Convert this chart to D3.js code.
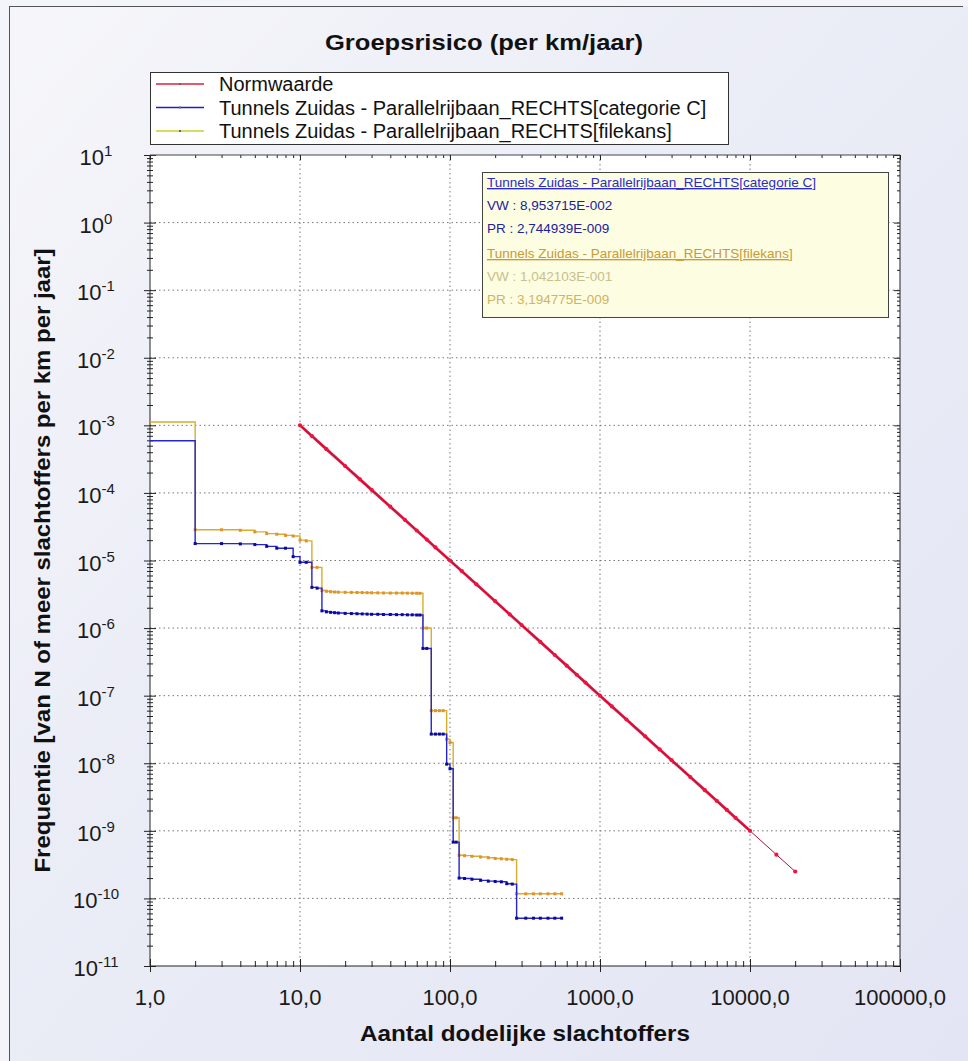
<!DOCTYPE html>
<html>
<head>
<meta charset="utf-8">
<script src="https://cdn.jsdelivr.net/npm/d3@7"></script>
<style>
  body { margin: 0; background: #fff; }
  svg { display: block; font-family: Arial, "Liberation Sans", sans-serif; }
</style>
</head>
<body>
<script>
//Width and height
var w = 968;
var h = 1061;
var plot = { l: 150, r: 900, t: 155, b: 966 };

// x tick values (decades) and labels
const xMajor = [1, 10, 100, 1000, 10000, 100000];
const xLabels = ["1,0", "10,0", "100,0", "1000,0", "10000,0", "100000,0"];

// y tick exponents
const yExp = [1, 0, -1, -2, -3, -4, -5, -6, -7, -8, -9, -10, -11];

// Normwaarde (N, F)
const normN = [10, 12, 15, 20, 25, 30, 40, 50, 60, 70, 80, 100, 120, 150, 200, 250, 300, 400, 500,
               600, 700, 800, 1000, 1200, 1500, 2000, 2500, 3000, 4000, 5000, 6000, 7000, 8000,
               10000, 15000, 20000];
const normF = [1e-3, 6.94e-4, 4.44e-4, 2.5e-4, 1.6e-4, 1.11e-4, 6.25e-5, 4e-5, 2.78e-5, 2.04e-5, 1.56e-5,
               1e-5, 6.94e-6, 4.44e-6, 2.5e-6, 1.6e-6, 1.11e-6, 6.25e-7, 4e-7,
               2.78e-7, 2.04e-7, 1.56e-7, 1e-7, 6.94e-8, 4.44e-8, 2.5e-8, 1.6e-8, 1.11e-8, 6.25e-9, 4e-9, 2.78e-9, 2.04e-9, 1.56e-9,
               1e-9, 4.44e-10, 2.5e-10];

// step curves: N values shared by both series
const stepN = [1, 2, 3, 4, 5, 6, 7, 8, 9, 10, 11, 12, 13, 14, 15, 16, 17, 18, 20, 22,
               24, 26, 28, 30, 33, 36, 40, 44, 48, 52, 56, 60, 63, 66, 70, 75, 80, 85, 90, 95,
               100, 105, 110, 115, 125, 140, 160, 180, 200, 220, 239, 260, 278, 320, 360, 400, 450, 500, 555];

// categorie C
const blueF = [5.9e-4, 1.78e-5, 1.78e-5, 1.76e-5, 1.72e-5, 1.62e-5, 1.52e-5, 1.52e-5, 1.14e-5, 9.4e-6,
               9.4e-6, 4.0e-6, 3.9e-6, 1.8e-6, 1.74e-6, 1.71e-6, 1.69e-6, 1.67e-6, 1.65e-6, 1.64e-6,
               1.63e-6, 1.62e-6, 1.61e-6, 1.6e-6, 1.6e-6, 1.59e-6, 1.59e-6, 1.58e-6, 1.58e-6, 1.57e-6,
               1.57e-6, 1.56e-6, 1.56e-6, 5.0e-7, 5.0e-7, 2.7e-8, 2.7e-8, 2.7e-8, 2.7e-8, 9.7e-9,
               8.3e-9, 6.8e-10, 6.8e-10, 2.0e-10, 1.97e-10, 1.92e-10, 1.85e-10, 1.8e-10, 1.78e-10, 1.76e-10,
               1.65e-10, 1.63e-10, 5.1e-11, 5.1e-11, 5.1e-11, 5.1e-11, 5.1e-11, 5.1e-11, 5.1e-11];

// filekans
const orangeF = [1.12e-3, 2.85e-5, 2.85e-5, 2.8e-5, 2.65e-5, 2.5e-5, 2.45e-5, 2.35e-5, 2.3e-5, 2.0e-5,
                 1.95e-5, 7.9e-6, 7.9e-6, 3.6e-6, 3.5e-6, 3.45e-6, 3.42e-6, 3.4e-6, 3.38e-6, 3.37e-6,
                 3.36e-6, 3.35e-6, 3.34e-6, 3.33e-6, 3.32e-6, 3.31e-6, 3.3e-6, 3.3e-6, 3.3e-6, 3.29e-6,
                 3.28e-6, 3.28e-6, 3.27e-6, 1.0e-6, 1.0e-6, 6.0e-8, 6.0e-8, 6.0e-8, 6.0e-8, 2.27e-8,
                 2.03e-8, 1.56e-9, 1.56e-9, 4.35e-10, 4.3e-10, 4.2e-10, 4.1e-10, 4.0e-10, 3.9e-10, 3.85e-10,
                 3.8e-10, 3.75e-10, 1.17e-10, 1.17e-10, 1.17e-10, 1.17e-10, 1.17e-10, 1.17e-10, 1.17e-10];

const seriesNames = ["Normwaarde",
                     "Tunnels Zuidas - Parallelrijbaan_RECHTS[categorie C]",
                     "Tunnels Zuidas - Parallelrijbaan_RECHTS[filekans]"];
const infoLines = ["Tunnels Zuidas - Parallelrijbaan_RECHTS[categorie C]",
                   "VW : 8,953715E-002",
                   "PR : 2,744939E-009",
                   "Tunnels Zuidas - Parallelrijbaan_RECHTS[filekans]",
                   "VW : 1,042103E-001",
                   "PR : 3,194775E-009"];

const normData = normN.map((n, i) => [n, normF[i]]);
const blueData = stepN.map((n, i) => [n, blueF[i]]);
const orangeData = stepN.map((n, i) => [n, orangeF[i]]);

// create scale functions
const xScale = d3.scaleLog()
                .domain([1, 100000])
                .range([plot.l, plot.r]);

const yScale = d3.scaleLog()
                .domain([1e-11, 10])
                .range([plot.b, plot.t]);

// create SVG element
const svg = d3.select("body")
              .append("svg")
                .attr("width", w)
                .attr("height", h);

// background
const grad = svg.append("defs").append("linearGradient")
  .attr("id", "bg").attr("x1", 0).attr("y1", 0).attr("x2", 1).attr("y2", 1);
grad.append("stop").attr("offset", "0%").attr("stop-color", "#f6f6fa");
grad.append("stop").attr("offset", "45%").attr("stop-color", "#eaecf6");
grad.append("stop").attr("offset", "100%").attr("stop-color", "#e3e5f4");

svg.append("rect").attr("width", w).attr("height", h).attr("fill", "#f4f5fa");
svg.append("rect").attr("x", 9).attr("y", 6).attr("width", w - 9).attr("height", h - 6).attr("fill", "url(#bg)");
svg.append("line").attr("x1", 9.5).attr("x2", 9.5).attr("y1", 6).attr("y2", h).attr("stroke", "#555");
svg.append("line").attr("x1", 9).attr("x2", 963).attr("y1", 6.5).attr("y2", 6.5).attr("stroke", "#555");

// plot area
svg.append("rect")
  .attr("x", plot.l).attr("y", plot.t)
  .attr("width", plot.r - plot.l).attr("height", plot.b - plot.t)
  .attr("fill", "#fff");

// grid lines
const yMajor = yExp.map(e => Math.pow(10, e));
svg.append("g").selectAll("line")
  .data(xMajor.slice(1, -1))
  .enter().append("line")
    .attr("x1", d => xScale(d)).attr("x2", d => xScale(d))
    .attr("y1", plot.t).attr("y2", plot.b)
    .attr("stroke", "#777").attr("stroke-dasharray", "1.5,3");
svg.append("g").selectAll("line")
  .data(yMajor.slice(1, -1))
  .enter().append("line")
    .attr("x1", plot.l).attr("x2", plot.r)
    .attr("y1", d => yScale(d)).attr("y2", d => yScale(d))
    .attr("stroke", "#777").attr("stroke-dasharray", "1.5,3");

// minor tick values
const xMinor = [];
xMajor.slice(0, -1).forEach(d => { for (let k = 2; k < 10; k++) xMinor.push(d * k); });
const yMinor = [];
yMajor.slice(1).forEach(d => { for (let k = 2; k < 10; k++) yMinor.push(d * k); });

function tickAxis(axis, vals, size) {
  return axis.tickValues(vals).tickSize(size).tickFormat("");
}
function clean(g) {
  g.select(".domain").remove();
  g.selectAll("line").attr("stroke", "#222");
}

// bottom axis
svg.append("g").attr("transform", `translate(0, ${plot.b})`)
  .call(tickAxis(d3.axisBottom(xScale), xMajor, 6)).call(clean);
svg.append("g").attr("transform", `translate(0, ${plot.b})`)
  .call(tickAxis(d3.axisTop(xScale), xMajor, 7)).call(clean);
svg.append("g").attr("transform", `translate(0, ${plot.b})`)
  .call(tickAxis(d3.axisTop(xScale), xMinor, 5)).call(clean);
svg.append("g").attr("transform", `translate(0, ${plot.b})`)
  .call(tickAxis(d3.axisBottom(xScale), xMinor, 1)).call(clean);

// top axis
svg.append("g").attr("transform", `translate(0, ${plot.t})`)
  .call(tickAxis(d3.axisBottom(xScale), xMajor, 5)).call(clean);
svg.append("g").attr("transform", `translate(0, ${plot.t})`)
  .call(tickAxis(d3.axisBottom(xScale), xMinor, 3)).call(clean);

// left axis
svg.append("g").attr("transform", `translate(${plot.l}, 0)`)
  .call(tickAxis(d3.axisLeft(yScale), yMajor, 6)).call(clean);
svg.append("g").attr("transform", `translate(${plot.l}, 0)`)
  .call(tickAxis(d3.axisRight(yScale), yMajor, 6)).call(clean);
svg.append("g").attr("transform", `translate(${plot.l}, 0)`)
  .call(tickAxis(d3.axisLeft(yScale), yMinor, 3)).call(clean);
svg.append("g").attr("transform", `translate(${plot.l}, 0)`)
  .call(tickAxis(d3.axisRight(yScale), yMinor, 3)).call(clean);

// right axis
svg.append("g").attr("transform", `translate(${plot.r}, 0)`)
  .call(tickAxis(d3.axisLeft(yScale), yMajor, 6)).call(clean);
svg.append("g").attr("transform", `translate(${plot.r}, 0)`)
  .call(tickAxis(d3.axisLeft(yScale), yMinor, 3)).call(clean);

// frame
svg.append("line").attr("x1", plot.l).attr("x2", plot.r).attr("y1", plot.b).attr("y2", plot.b).attr("stroke", "#222");
svg.append("line").attr("x1", plot.l).attr("x2", plot.l).attr("y1", plot.t).attr("y2", plot.b).attr("stroke", "#222");
svg.append("line").attr("x1", plot.r).attr("x2", plot.r).attr("y1", plot.t).attr("y2", plot.b).attr("stroke", "#222");
svg.append("line").attr("x1", plot.l).attr("x2", plot.r).attr("y1", plot.t).attr("y2", plot.t).attr("stroke", "#444");

// x tick labels
svg.append("g").selectAll("text")
  .data(xMajor)
  .enter().append("text")
    .attr("x", d => xScale(d))
    .attr("y", plot.b + 39)
    .attr("text-anchor", "middle")
    .attr("font-size", "22px")
    .attr("fill", "#1a1a1a")
    .text((d, i) => xLabels[i]);

// y tick labels with superscript
const yl = svg.append("g").selectAll("text")
  .data(yExp)
  .enter().append("text")
    .attr("x", 96)
    .attr("y", d => yScale(Math.pow(10, d)) + 10)
    .attr("text-anchor", "middle")
    .attr("font-size", "22px")
    .attr("fill", "#1a1a1a");
yl.append("tspan").text("10");
yl.append("tspan").attr("font-size", "15px").attr("dy", -9).text(d => d);

// titles
svg.append("text")
  .attr("x", 484).attr("y", 50)
  .attr("text-anchor", "middle")
  .attr("font-size", "22px").attr("font-weight", "bold").attr("fill", "#111")
  .attr("textLength", 318).attr("lengthAdjust", "spacingAndGlyphs")
  .text("Groepsrisico (per km/jaar)");

svg.append("text")
  .attr("x", (plot.l + plot.r) / 2).attr("y", 1041)
  .attr("text-anchor", "middle")
  .attr("font-size", "22px").attr("font-weight", "bold").attr("fill", "#111")
  .attr("textLength", 330).attr("lengthAdjust", "spacingAndGlyphs")
  .text("Aantal dodelijke slachtoffers");

svg.append("text")
  .attr("transform", `translate(50, ${(plot.t + plot.b) / 2}) rotate(-90)`)
  .attr("text-anchor", "middle")
  .attr("font-size", "22px").attr("font-weight", "bold").attr("fill", "#111")
  .attr("textLength", 624).attr("lengthAdjust", "spacingAndGlyphs")
  .text("Frequentie [van N of meer slachtoffers per km per jaar]");

// curves
const stepLine = d3.line()
  .x(d => xScale(d[0]))
  .y(d => yScale(d[1]))
  .curve(d3.curveStepAfter);

const straight = d3.line()
  .x(d => xScale(d[0]))
  .y(d => yScale(d[1]));

// Normwaarde
svg.append("path")
  .datum(normData.filter(d => d[0] <= 10000))
  .attr("d", straight)
  .attr("fill", "none").attr("stroke", "#ee143e").attr("stroke-width", 2.8);
svg.append("path")
  .datum(normData)
  .attr("d", straight)
  .attr("fill", "none").attr("stroke", "#a01840").attr("stroke-width", 1);
svg.append("g").selectAll("circle")
  .data(normData)
  .enter().append("circle")
    .attr("cx", d => xScale(d[0]))
    .attr("cy", d => yScale(d[1]))
    .attr("r", 2.1)
    .attr("fill", "#ee143e");

// filekans
svg.append("path")
  .datum(orangeData)
  .attr("d", stepLine)
  .attr("fill", "none").attr("stroke", "#d6ae2c").attr("stroke-width", 1.4);
svg.append("g").selectAll("rect")
  .data(orangeData.slice(1))
  .enter().append("rect")
    .attr("x", d => xScale(d[0]) - 1.5)
    .attr("y", d => yScale(d[1]) - 1.5)
    .attr("width", 3).attr("height", 3)
    .attr("fill", "#e2922a");

// categorie C
svg.append("path")
  .datum(blueData)
  .attr("d", stepLine)
  .attr("fill", "none").attr("stroke", "#2424d0").attr("stroke-width", 1.4);
svg.append("g").selectAll("rect")
  .data(blueData.slice(1))
  .enter().append("rect")
    .attr("x", d => xScale(d[0]) - 1.5)
    .attr("y", d => yScale(d[1]) - 1.5)
    .attr("width", 3).attr("height", 3)
    .attr("fill", "#0a0a9a");

// legend
const legendColors = ["#e0203c", "#1c1cd8", "#cccc30"];
const legend = svg.append("g");
legend.append("rect")
  .attr("x", 150.5).attr("y", 72.5).attr("width", 578).attr("height", 72)
  .attr("fill", "#fff").attr("stroke", "#333");
const li = legend.selectAll("g.item")
  .data(seriesNames)
  .enter().append("g")
    .attr("transform", (d, i) => `translate(0, ${84 + i * 23.5})`);
li.append("line")
  .attr("x1", 156).attr("x2", 204)
  .attr("stroke", (d, i) => legendColors[i]).attr("stroke-width", 1.5);
li.append("rect")
  .attr("x", 179).attr("y", -1).attr("width", 2).attr("height", 2)
  .attr("fill", "#666");
li.append("text")
  .attr("x", 219).attr("y", 7)
  .attr("font-size", "20px").attr("fill", "#111")
  .text(d => d);

// info box
const infoColors = ["#2a2ad0", "#2020a0", "#2020a0", "#c89a38", "#c8c08c", "#d2b264"];
svg.append("rect")
  .attr("x", 482.5).attr("y", 172.5).attr("width", 406).attr("height", 145)
  .attr("fill", "#fdfde2").attr("stroke", "#444");
svg.append("g").selectAll("text")
  .data(infoLines)
  .enter().append("text")
    .attr("x", 487)
    .attr("y", (d, i) => [187, 210, 233, 258, 281, 304][i])
    .attr("font-size", "13.5px")
    .attr("fill", (d, i) => infoColors[i])
    .attr("text-decoration", (d, i) => (i === 0 || i === 3) ? "underline" : null)
    .text(d => d);
</script>
</body>
</html>
